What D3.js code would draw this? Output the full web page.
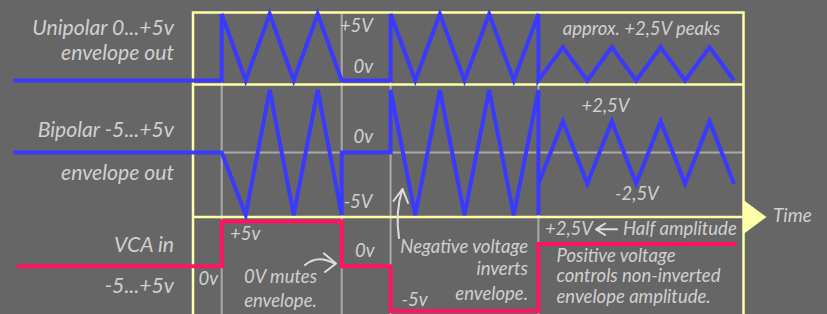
<!DOCTYPE html>
<html>
<head>
<meta charset="utf-8">
<script src="https://cdn.jsdelivr.net/npm/d3@7"></script>
<style>
  body { margin: 0; background: #666666; }
  svg { display: block; }
  text { font-family: Lato, "Open Sans", sans-serif; font-style: italic; fill: #d0d0d0; }
  .big { font-size: 21.2px; }
  .small { font-size: 18.5px; }
  .time { font-size: 19px; }
</style>
</head>
<body>
<div id="chart"></div>
<script>
// time axis knots (arbitrary units: one unit = half a triangle period)
let timeKnots = [-9, 0, 5, 7, 13, 21];
let gateMarks = [0, 5, 7, 13];

// unipolar envelope 0..+5v  [time, volts]
let unipolarEnv = [[-9, 0], [0, 0], [0, 5], [1, 0], [2, 5], [3, 0], [4, 5], [5, 0],
  [7, 0], [7, 5], [8, 0], [9, 5], [10, 0], [11, 5], [12, 0], [13, 5],
  [13, 0], [14, 2.5], [15, 0], [16, 2.5], [17, 0], [18, 2.5], [19, 0], [20, 2.5], [21, 0]];

// bipolar envelope -5..+5v
let bipolarEnv = [[-9, 0], [0, 0], [1, -5], [2, 5], [3, -5], [4, 5], [5, -5], [5, 0],
  [7, 0], [7, 5], [8, -5], [9, 5], [10, -5], [11, 5], [12, -5], [13, 5],
  [13, -5], [13, -2.5], [14, 2.5], [15, -2.5], [16, 2.5], [17, -2.5], [18, 2.5], [19, -2.5], [20, 2.5], [21, -2.5]];

// VCA control input
let vcaIn = [[-8.83, 0], [0, 0], [0, 5], [5, 5], [5, 0], [7, 0], [7, -5], [13, -5], [13, 2.5], [21.1, 2.5]];

let rowLabels = [["Unipolar 0...+5v", "envelope out"], ["Bipolar -5...+5v", "envelope out"], ["VCA in", "-5...+5v"]];

// set dimensions
let width = 827;
let height = 314;
let frame = {left: 193, right: 743.5, top: 12.5, div1: 84.5, div2: 217, bottom: 340};

let svg = d3.select("#chart").append("svg")
  .attr("width", width)
  .attr("height", height);

// piecewise time scale
let x = d3.scaleLinear().domain(timeKnots).range([13, 221.7, 341.7, 390.6, 538.4, 734]);
let yU = d3.scaleLinear().domain([0, 5]).range([80.5, 14]);
let yB = d3.scaleLinear().domain([-5, 5]).range([215, 90]);
let yV = d3.scaleLinear().domain([-5, 5]).range([311, 221.5]);

let grey = "#a9a9a9";
let yellow = "#ffffaa";

// grey guide lines
svg.append("g").selectAll("line")
  .data(gateMarks)
  .enter().append("line")
  .attr("x1", d => x(d)).attr("x2", d => x(d))
  .attr("y1", frame.top).attr("y2", frame.bottom)
  .attr("stroke", grey).attr("stroke-width", 2);

svg.append("line")
  .attr("x1", frame.left).attr("x2", frame.right)
  .attr("y1", yB(0)).attr("y2", yB(0))
  .attr("stroke", grey).attr("stroke-width", 2);

// yellow frame
let fr = svg.append("g").attr("stroke", yellow).attr("stroke-width", 2.5).attr("fill", "none");
fr.append("path")
  .attr("d", `M${frame.left},${frame.bottom}V${frame.top}H${frame.right}V${frame.bottom}`);
[frame.div1, frame.div2].forEach(y => {
  fr.append("line").attr("x1", frame.left).attr("x2", frame.right).attr("y1", y).attr("y2", y);
});
// time arrow head
svg.append("path")
  .attr("d", `M${frame.right},${frame.div2 - 17}L${frame.right + 23},${frame.div2}L${frame.right},${frame.div2 + 17}Z`)
  .attr("fill", yellow);

// traces
let traces = [
  {data: unipolarEnv, y: yU, color: "#3a3aff"},
  {data: bipolarEnv, y: yB, color: "#3a3aff"},
  {data: vcaIn, y: yV, color: "#ff1463"}
];
traces.forEach(tr => {
  svg.append("path")
    .datum(tr.data)
    .attr("d", d3.line().x(d => x(d[0])).y(d => tr.y(d[1])))
    .attr("fill", "none")
    .attr("stroke", tr.color)
    .attr("stroke-width", 4)
    .attr("stroke-linejoin", "miter");
});

// row labels on the left
let labelY = [[35, 60], [136.5, 180], [251.5, 293]];
rowLabels.forEach((pair, i) => {
  pair.forEach((t, j) => {
    svg.append("text").attr("class", "big")
      .attr("x", 174).attr("y", labelY[i][j])
      .attr("text-anchor", "end").text(t);
  });
});

function note(tx, ty, str, anchor, cls) {
  svg.append("text").attr("class", cls || "small")
    .attr("x", tx).attr("y", ty)
    .attr("text-anchor", anchor || "start")
    .text(str);
}

// annotations, row 1
note(373, 31.5, "+5V", "end");
note(373, 73, "0v", "end");
note(641.5, 35, "approx. +2,5V peaks", "middle");
// row 2
note(373, 143, "0v", "end");
note(372.5, 208, "-5V", "end");
note(581.5, 111.5, "+2,5V");
note(615, 200, "-2,5V");
note(773, 222, "Time", "start", "time");
// row 3
note(230, 239.5, "+5v");
note(198.5, 285, "0v");
note(280.5, 283.3, "0V mutes", "middle");
note(280.5, 306.7, "envelope.", "middle");
note(355, 256.7, "0v");
note(528, 253, "Negative voltage", "end");
note(528, 275, "inverts", "end");
note(528, 300, "envelope.", "end");
note(401.5, 306, "-5v");
note(545, 235, "+2,5V");
note(623, 235, "Half amplitude");
note(556.5, 261.7, "Positive voltage");
note(556.5, 281.7, "controls non-inverted");
note(556.5, 303.3, "envelope amplitude.");

// hand drawn arrows
let arrows = svg.append("g").attr("stroke", "#dedede").attr("stroke-width", 2)
  .attr("fill", "none").attr("stroke-linecap", "round").attr("stroke-linejoin", "round");
arrows.append("path").attr("d", "M399,238 Q395,212 402.5,189");
arrows.append("path").attr("d", "M393.5,201 L402.5,189 L408,203");
arrows.append("path").attr("d", "M305,265 Q318,254 335,264");
arrows.append("path").attr("d", "M324,253.5 L336,263.5 L325,272");
arrows.append("path").attr("d", "M617,229.3 L596,229.3 M605,223.5 L596,229.3 L605,235");
</script>
</body>
</html>
